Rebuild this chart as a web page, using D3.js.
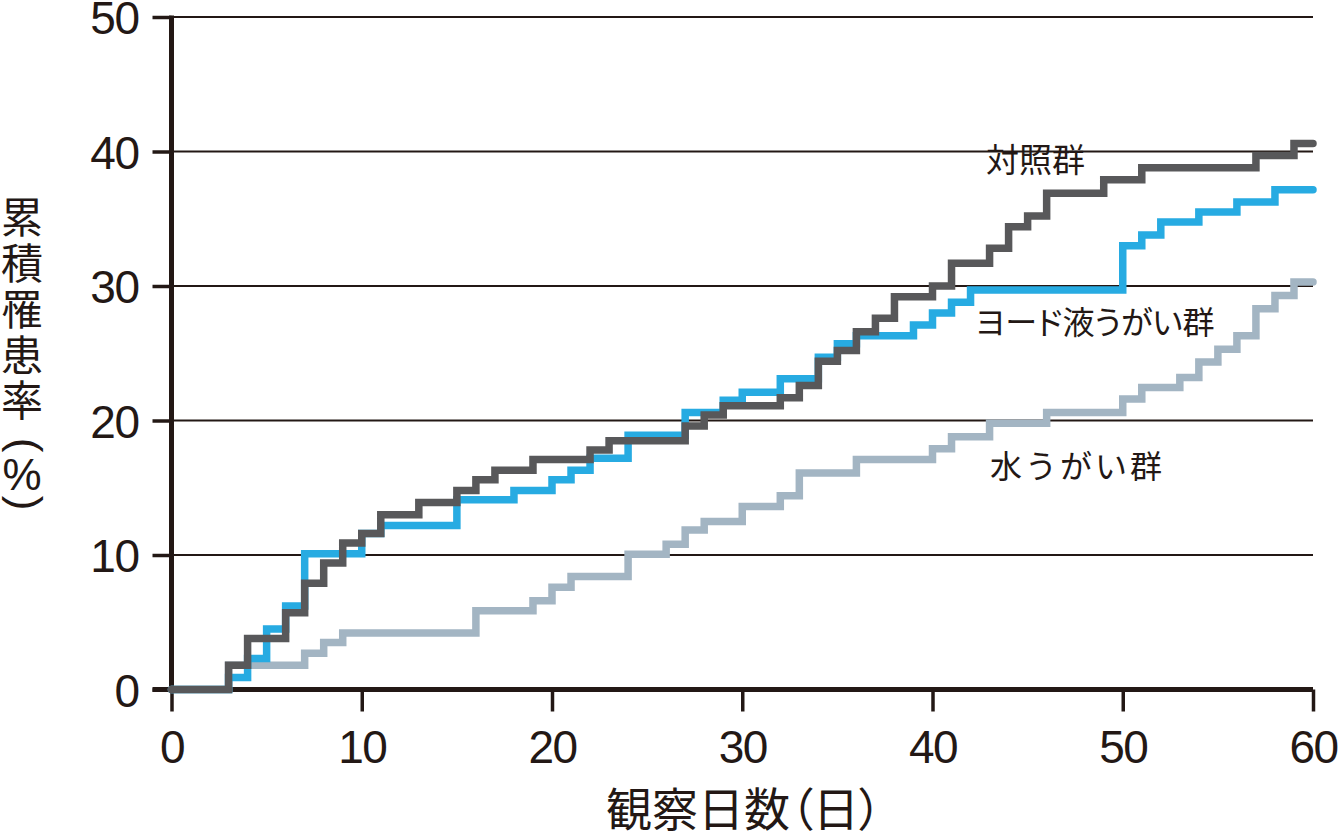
<!DOCTYPE html>
<html>
<head>
<meta charset="utf-8">
<script src="https://cdn.jsdelivr.net/npm/d3@7"></script>
<style>
html,body{margin:0;padding:0;background:#fff;}
svg{display:block;}
</style>
</head>
<body>
<svg id="chart" width="1339" height="836"></svg>
<script>
// ---- data ----
const xTicks = [0, 10, 20, 30, 40, 50, 60];
const yTicks = [0, 10, 20, 30, 40, 50];

const controlDays = [0,3,4,6,7,8,9,10,11,13,15,16,17,19,22,23,27,28,29,32,33,34,35,36,37,38,40,41,43,44,45,46,49,51,57,59,60];
const controlVals = [0,1.8,3.8,5.7,7.9,9.4,10.9,11.6,13.0,13.9,14.8,15.6,16.3,17.1,17.8,18.5,19.6,20.4,21.1,21.7,22.6,24.4,25.2,26.6,27.6,29.2,30.0,31.7,32.8,34.4,35.2,36.9,37.9,38.8,39.7,40.6,40.6];

const iodineDays = [0,3,4,5,6,7,10,11,15,18,20,21,22,24,27,29,30,32,34,35,36,39,40,41,42,50,51,52,54,56,58,60];
const iodineVals = [0,0.9,2.3,4.5,6.2,10.1,11.6,12.2,14.1,14.8,15.6,16.3,17.2,18.9,20.6,21.5,22.1,23.1,24.7,25.7,26.3,27.1,28.0,28.8,29.7,33.0,33.8,34.75,35.5,36.25,37.15,37.15];

const waterDays = [0,3,7,8,9,16,19,20,21,24,26,27,28,30,32,33,36,40,41,43,46,50,51,53,54,55,56,57,58,59,60];
const waterVals = [0,1.8,2.7,3.5,4.2,5.85,6.6,7.6,8.4,10.05,10.8,11.85,12.5,13.6,14.4,16.1,17.1,17.9,18.8,19.8,20.6,21.6,22.45,23.2,24.35,25.3,26.3,28.3,29.3,30.3,30.3];

const seriesNames = ["水うがい群", "ヨード液うがい群", "対照群"];
const yTitleChars = ["累", "積", "罹", "患", "率", "(", "%", ")"];
const xTitle = "観察日数（日）";

// ---- layout ----
const svg = d3.select("#chart");
const x = d3.scaleLinear().domain([0, 60]).range([171.5, 1313]);
const y = d3.scaleLinear().domain([0, 50]).range([689.5, 17]);
const ink = "#231815";
const numFont = "'Liberation Sans', Arial, sans-serif";
const jpFont = "'Noto Sans CJK JP', sans-serif";

// gridlines
svg.append("g")
  .selectAll("line").data(yTicks.filter(d => d > 0)).join("line")
  .attr("x1", x(0)).attr("x2", x(60))
  .attr("y1", d => y(d)).attr("y2", d => y(d))
  .attr("stroke", ink).attr("stroke-width", 1.8);

// y axis ticks + labels
const yAxis = d3.axisLeft(y).tickValues(yTicks).tickSize(19).tickPadding(14).tickFormat(d3.format("d"));
const gy = svg.append("g").attr("transform", `translate(${x(0)},0)`).call(yAxis);
gy.select(".domain").remove();
gy.selectAll(".tick line").attr("stroke", ink).attr("stroke-width", 3.5);
gy.selectAll(".tick text")
  .attr("fill", ink).attr("font-family", numFont).attr("font-size", 46)
  .attr("letter-spacing", -1.5).attr("dy", "0.36em");

// x axis ticks + labels
const xAxis = d3.axisBottom(x).tickValues(xTicks).tickSize(22).tickPadding(18).tickFormat(d3.format("d"));
const gx = svg.append("g").attr("transform", `translate(0,${y(0)})`).call(xAxis);
gx.select(".domain").remove();
gx.selectAll(".tick line").attr("stroke", ink).attr("stroke-width", 3.5);
gx.selectAll(".tick text")
  .attr("fill", ink).attr("font-family", numFont).attr("font-size", 46)
  .attr("letter-spacing", -1.5).attr("dy", "0.72em");

// axis lines
svg.append("line").attr("x1", x(0)).attr("x2", x(0)).attr("y1", y(50) - 1.5).attr("y2", y(0))
  .attr("stroke", ink).attr("stroke-width", 5);
svg.append("line").attr("x1", x(0) - 19).attr("x2", x(60)).attr("y1", y(0)).attr("y2", y(0))
  .attr("stroke", ink).attr("stroke-width", 5);

// step lines
const line = d3.line().x(d => x(d[0])).y(d => y(d[1])).curve(d3.curveStepAfter);
const series = [
  {days: waterDays, vals: waterVals, color: "#a3b5c3"},
  {days: iodineDays, vals: iodineVals, color: "#27abe2"},
  {days: controlDays, vals: controlVals, color: "#58585a"}
];
svg.append("g").selectAll("path").data(series).join("path")
  .attr("d", s => line(s.days.map((d, i) => [d, s.vals[i]])))
  .attr("fill", "none").attr("stroke", s => s.color)
  .attr("stroke-width", 7.5).attr("stroke-linecap", "round").attr("stroke-linejoin", "miter");

// series labels
const labelPos = [[990, 466, 32, 3], [975, 322, 32, 0], [986, 160, 33, 0]];
svg.append("g").selectAll("text").data(seriesNames).join("text")
  .attr("x", (d, i) => labelPos[i][0]).attr("y", (d, i) => labelPos[i][1])
  .attr("dy", "0.36em")
  .attr("font-family", jpFont).attr("font-size", (d, i) => labelPos[i][2]).attr("fill", ink)
  .attr("letter-spacing", (d, i) => labelPos[i][3])
  .style("font-feature-settings", (d, i) => i === 1 ? "'palt'" : "normal")
  .text(d => d);

// x axis title
svg.append("text")
  .attr("x", 744).attr("y", 809).attr("dy", "0.36em").attr("text-anchor", "middle")
  .attr("font-family", jpFont).attr("font-size", 46).attr("fill", ink)
  .style("font-feature-settings", "'palt'")
  .text(xTitle);

// y axis title (vertical, one glyph per row; parentheses turned for vertical setting)
const yTitleY = [218, 264, 310, 356, 401, 445, 474, 503];
const yt = svg.append("g").attr("fill", ink);
yt.selectAll("text").data(yTitleChars).join("text")
  .attr("text-anchor", "middle")
  .attr("dy", (d, i) => i >= 5 ? (i === 6 ? "0.36em" : "0.26em") : "0.36em")
  .attr("font-size", (d, i) => i >= 5 ? 44 : 42)
  .attr("font-family", (d, i) => i >= 5 ? numFont : jpFont)
  .attr("transform", (d, i) => {
    const t = `translate(22,${yTitleY[i]})`;
    return (d === "(" || d === ")") ? t + " rotate(90)" : t;
  })
  .text(d => d);
</script>
</body>
</html>
